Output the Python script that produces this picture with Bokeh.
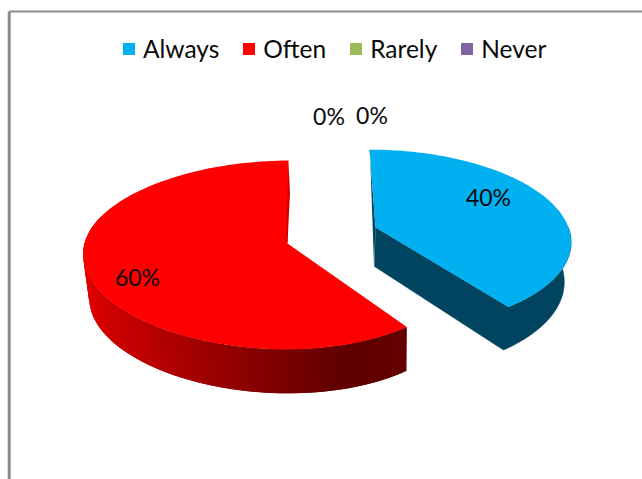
import numpy as np
from bokeh.plotting import figure
from bokeh.models import Range1d, Legend, LegendItem
from bokeh.core.properties import value
from bokeh.embed import file_html
from bokeh.resources import INLINE

categories = ["Always", "Often", "Rarely", "Never"]
shares = [40, 60, 0, 0]
colors = ["#00B0F0", "#FF0000", "#9BBB59", "#8064A2"]
percent_labels = [f"{s}%" for s in shares]

# label anchors, in picture pixels
label_x = [488, 137, 371.5, 328.5]
label_y = [196, 276, 114, 115]

W, H = 642, 479
p = figure(width=W, height=H, output_backend="svg", toolbar_location=None,
           x_range=Range1d(0, W), y_range=Range1d(H, 0), min_border=0)
p.axis.visible = False
p.grid.visible = False
p.outline_line_color = None
p.background_fill_color = "white"
p.border_fill_color = "white"

# exploded, perspective-tilted slices: geometry of each visible slice
geom = {
    "Always": dict(ax=375, ay=227, a=193, b=88, k=0.13, d=0, shear=0.077, dz=39, qy=1.05, qx=0.97, sx=-1),
    "Often": dict(ax=287, ay=243, a=191, b=93, k=0.1215, d=-12, shear=-0.012, dz=44, qy=1.0, qx=0.98, sx=2),
}


def rim(g, th):
    X, Y = np.sin(th), -np.cos(th)
    s = 1 / (1 - g["k"] * Y)
    y = g["ay"] + g["b"] * Y * s
    x = g["ax"] + g["a"] * X * s + g["d"] * X ** 2 + g["shear"] * (y - g["ay"])
    return x, y


def lower(g, x, y):
    return g["ax"] + g["qx"] * (np.asarray(x) - g["ax"]) + g["sx"], g["ay"] + g["qy"] * (np.asarray(y) - g["ay"]) + g["dz"]


def red_shade(x):
    r = np.interp(x, [85, 110, 150, 220, 280, 340, 407], [222, 205, 185, 150, 125, 96, 100])
    return "#%02x0000" % int(r)


total = sum(shares)
angles = np.cumsum([0] + shares) / total * 2 * np.pi

# red side wall, shaded strip by strip; each strip overlaps the next to hide seams
g = geom["Often"]
th = np.linspace(angles[1], np.radians(288), 90)
x0, y0 = rim(g, th)
x1, y1 = lower(g, x0, y0)
sx, sy, sc = [], [], []
for i in range(len(th) - 1):
    j = min(i + 2, len(th) - 1)
    sx.append([x0[i], x0[j], x1[j], x1[i]])
    sy.append([y0[i], y0[j], y1[j], y1[i]])
    sc.append(red_shade((x0[i] + x0[i + 1]) / 2))
p.patches(sx, sy, fill_color=sc, line_color=None)

# blue walls, drawn as one outline
g = geom["Always"]
th = np.linspace(angles[0], angles[1], 60)
bx, by = rim(g, th)
side = np.linspace(np.radians(90), angles[1], 40)
x0, y0 = rim(g, side)
x1, y1 = lower(g, x0, y0)
ax1, ay1 = lower(g, g["ax"], g["ay"])
p.patch(list(x0) + [g["ax"], ax1] + list(x1[::-1]), list(y0) + [g["ay"], ay1] + list(y1[::-1]),
        fill_color="#00445F", line_color="#00445F", line_width=0.5)
p.patch([bx[0], g["ax"], ax1 - 0.5, bx[0] + 0.5], [by[0], g["ay"], ay1 - 2, by[0] + 3], fill_color="#00445F", line_color=None)

# top faces, one per category (the 0 % ones are empty)
tops = []
for i, (c, col) in enumerate(zip(categories, colors)):
    gi = geom.get(c, geom["Often"])
    th = np.linspace(angles[i], angles[i + 1], 120)
    x, y = rim(gi, th)
    tops.append(p.patch([gi["ax"]] + list(x), [gi["ay"]] + list(y), fill_color=col, line_color=None))

# thin inner wall next to the red top face
g = geom["Often"]
tx, ty = rim(g, np.array([0.0]))
p.patch([tx[0], tx[0] + 1.5, g["ax"], g["ax"] - 1.5], [ty[0], ty[0] + 33, g["ay"], g["ay"] - 3],
        fill_color="#d00000", line_color=None)

p.text(label_x, label_y, text=percent_labels, text_font=value("Lato"), text_font_size="23px",
       text_color="#0a0a0a", text_align="center", text_baseline="middle")

# frame
p.line([8.7, 8.7], [H, 11], line_color="#8c8c8c", line_width=3)
p.line([8.7, W], [11, 11], line_color="#8c8c8c", line_width=2)

legend = Legend(items=[LegendItem(label=c, renderers=[r]) for c, r in zip(categories, tops)],
                orientation="horizontal", location=(121, 416), padding=0, margin=0,
                background_fill_alpha=0, border_line_color=None,
                glyph_width=15, glyph_height=15, label_standoff=7, spacing=22,
                label_text_font="Lato", label_text_font_size="24.5px", label_text_color="#0a0a0a",
                label_height=20)
p.add_layout(legend, "center")

open("out.html", "w").write(file_html(p, INLINE))
